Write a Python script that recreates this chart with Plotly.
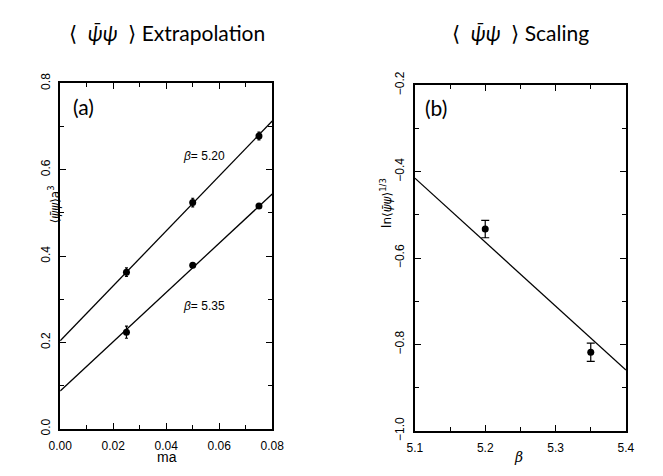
import plotly.graph_objects as go

# ---------------- data ----------------
# panel (a): <psibar psi> a^3 vs ma
ma_vals = [0.025, 0.05, 0.075]
pbp_520 = [0.363, 0.524, 0.678]
err_520 = [0.010, 0.010, 0.009]
pbp_535 = [0.224, 0.379, 0.516]
err_535 = [0.014, 0.005, 0.005]
# linear fits (intercept, slope)
fit_520 = [0.204, 6.36]
fit_535 = [0.088, 5.70]
xrange_a = [0.0, 0.08]

# panel (b): ln <psibar psi>^{1/3} vs beta
beta_vals = [5.20, 5.35]
ln_pbp = [-0.533, -0.818]
ln_err = [0.020, 0.021]
fit_b = [-0.415, -1.48]  # value at beta=5.1, slope
xrange_b = [5.1, 5.4]

W, H = 663, 476

def px(x):
    return x / W

def py(y):
    return 1 - y / H

fig = go.Figure()

def fit_line(fit, xr, x0=0.0):
    return [fit[0] + fit[1] * (x - x0) for x in xr]

line_style = dict(color="black", width=1.3)
marker_style = dict(color="black", size=7, symbol="circle")

# panel (a)
fig.add_trace(go.Scatter(x=xrange_a, y=fit_line(fit_520, xrange_a), mode="lines",
                         line=line_style, xaxis="x", yaxis="y", showlegend=False))
fig.add_trace(go.Scatter(x=xrange_a, y=fit_line(fit_535, xrange_a), mode="lines",
                         line=line_style, xaxis="x", yaxis="y", showlegend=False))
fig.add_trace(go.Scatter(x=ma_vals, y=pbp_520, mode="markers", marker=marker_style,
                         error_y=dict(type="data", array=err_520, color="black", thickness=1.2, width=1.5),
                         xaxis="x", yaxis="y", showlegend=False))
fig.add_trace(go.Scatter(x=ma_vals, y=pbp_535, mode="markers", marker=marker_style,
                         error_y=dict(type="data", array=err_535, color="black", thickness=1.2, width=1.5),
                         xaxis="x", yaxis="y", showlegend=False))

# panel (b)
fig.add_trace(go.Scatter(x=xrange_b, y=fit_line(fit_b, xrange_b, x0=5.1), mode="lines",
                         line=line_style, xaxis="x2", yaxis="y2", showlegend=False))
fig.add_trace(go.Scatter(x=beta_vals, y=ln_pbp, mode="markers", marker=marker_style,
                         error_y=dict(type="data", array=ln_err, color="black", thickness=1.2, width=4),
                         xaxis="x2", yaxis="y2", showlegend=False))

tick_font = dict(family="Liberation Sans, Arial, sans-serif", size=12, color="black")
axis_common = dict(showgrid=False, zeroline=False, showline=True, linecolor="black",
                   linewidth=1.5, mirror="allticks", ticks="inside", ticklen=6,
                   tickwidth=1.2, tickcolor="black", tickfont=tick_font)

fig.update_layout(
    width=W, height=H,
    margin=dict(l=0, r=0, t=0, b=0),
    paper_bgcolor="white", plot_bgcolor="white",
    xaxis=dict(domain=[px(50), px(270)], range=xrange_a, anchor="y",
               dtick=0.02, tickformat=".2f", ticklabelstandoff=5,
               minor=dict(dtick=0.01, ticks="inside", ticklen=4, tickcolor="black", showgrid=False),
               **axis_common),
    yaxis=dict(domain=[py(437), py(73)], range=[0, 0.8], anchor="x",
               dtick=0.2, tickformat=".1f", tickangle=-90, ticklabelstandoff=4,
               minor=dict(dtick=0.1, ticks="inside", ticklen=4, tickcolor="black", showgrid=False),
               **axis_common),
    xaxis2=dict(domain=[px(418), px(637)], range=xrange_b, anchor="y2",
                dtick=0.1, tickformat=".1f", ticklabelstandoff=5,
                minor=dict(dtick=0.05, ticks="inside", ticklen=4, tickcolor="black", showgrid=False),
                **axis_common),
    yaxis2=dict(domain=[py(439), py(75)], range=[-1.0, -0.2], anchor="x2",
                dtick=0.2, tickformat=".1f", tickangle=-90, ticklabelstandoff=4,
                minor=dict(dtick=0.1, ticks="inside", ticklen=4, tickcolor="black", showgrid=False),
                **axis_common),
)

title_font = dict(family="Lato, 'Open Sans', sans-serif", size=21, color="black")
label_font = dict(family="DejaVu Sans, sans-serif", size=12, color="black")
annots = [
    dict(text="⟨  <i>ψ̄ψ</i>  ⟩ Extrapolation", x=px(161), y=py(20), yanchor="middle", font=title_font),
    dict(text="⟨  <i>ψ̄ψ</i>  ⟩ Scaling", x=px(528), y=py(20), yanchor="middle", font=title_font),
    dict(text="ma", x=px(161), y=0, yanchor="bottom",
         font=dict(family="Liberation Sans, Arial, sans-serif", size=14, color="black")),
    dict(text="<i>β</i>", x=px(526), y=0, yanchor="bottom",
         font=dict(family="DejaVu Serif, serif", size=14, color="black")),
    dict(text="⟨<i>ψ̄ψ</i>⟩a<sup>3</sup>", x=px(43), y=py(200), yanchor="middle", textangle=-90, font=label_font),
    dict(text="ln⟨<i>ψ̄ψ</i>⟩<sup>1/3</sup>", x=px(388), y=py(199), yanchor="middle", textangle=-90, font=label_font),
    dict(text="(a)", x=px(62), y=py(97), xanchor="left", yanchor="middle",
         font=dict(family="Lato, sans-serif", size=21, color="black")),
    dict(text="(b)", x=px(427), y=py(98), xanchor="left", yanchor="middle",
         font=dict(family="Lato, sans-serif", size=21, color="black")),
]
for a in annots:
    a.setdefault("xanchor", "center")
    fig.add_annotation(xref="paper", yref="paper", showarrow=False, borderpad=0, **a)

# in-plot labels (data coordinates)
fig.add_annotation(text="<i>β</i>= 5.20", x=0.0455, y=0.632, xref="x", yref="y",
                   showarrow=False, xanchor="left", yanchor="middle", font=tick_font)
fig.add_annotation(text="<i>β</i>= 5.35", x=0.0455, y=0.285, xref="x", yref="y",
                   showarrow=False, xanchor="left", yanchor="middle", font=tick_font)

fig.write_html("out.html")
